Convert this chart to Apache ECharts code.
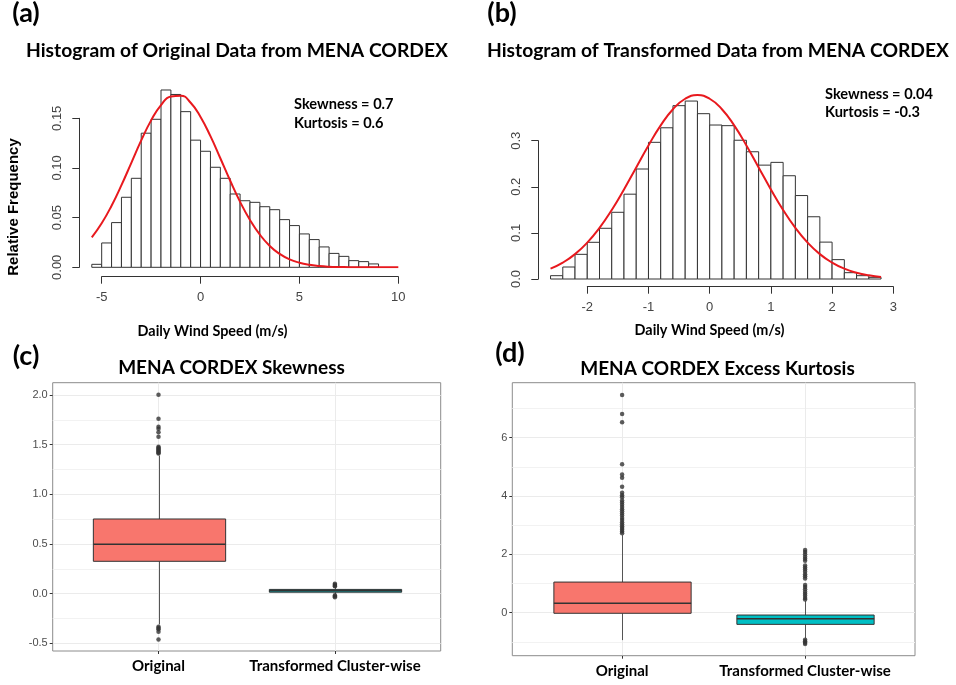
<!DOCTYPE html>
<html><head><meta charset="utf-8">
<script src="https://cdn.jsdelivr.net/npm/echarts@6/dist/echarts.min.js"></script>
<style>html,body{margin:0;padding:0;background:#fff}#c{width:956px;height:685px}</style>
</head><body><div id="c"></div>
<script>
// ---------- Panel (a): histogram of original data ----------
const binEdgesA = [-5.5,-5,-4.5,-4,-3.5,-3,-2.5,-2,-1.5,-1,-0.5,0,0.5,1,1.5,2,2.5,3,3.5,4,4.5,5,5.5,6,6.5,7,7.5,8,8.5,9];
const freqA = [0.003,0.0245,0.045,0.0705,0.0896,0.135,0.149,0.1785,0.174,0.1567,0.128,0.1168,0.1007,0.0896,0.0738,0.067,0.0654,0.061,0.058,0.048,0.042,0.0336,0.0279,0.0205,0.014,0.011,0.0067,0.0057,0.0034];
const curveAx = [-5.5,-5,-4.5,-4,-3.5,-3,-2.5,-2,-1.5,-1,-0.5,0,0.5,1,1.5,2,2.5,3,3.5,4,4.5,5,5.5,6,6.5,7,7.5,8,8.5,9,9.5,10];
const curveAy = [0.0302,0.0443,0.0620,0.0827,0.1052,0.1277,0.1479,0.1633,0.1720,0.1728,0.1657,0.1514,0.1320,0.1098,0.0871,0.0659,0.0476,0.0328,0.0215,0.0135,0.0080,0.0046,0.0025,0.0013,0.0006,0.0003,0.0001,0,0,0,0,0];
const ticksAx = [-5, 10, 5];      // min, max, step
const ticksAy = [0, 0.15, 0.05];

// ---------- Panel (b): histogram of transformed data ----------
const binEdgesB = [-2.6,-2.4,-2.2,-2,-1.8,-1.6,-1.4,-1.2,-1,-0.8,-0.6,-0.4,-0.2,0,0.2,0.4,0.6,0.8,1,1.2,1.4,1.6,1.8,2,2.2,2.4,2.6,2.8];
const freqB = [0.0072,0.026,0.0535,0.0796,0.11,0.1447,0.184,0.2386,0.2965,0.328,0.376,0.386,0.3586,0.334,0.3326,0.301,0.276,0.247,0.253,0.224,0.181,0.135,0.080,0.042,0.0137,0.0072,0.0036];
const curveBx = [-2.6,-2.4,-2.2,-2,-1.8,-1.6,-1.4,-1.2,-1,-0.8,-0.6,-0.4,-0.2,0,0.2,0.4,0.6,0.8,1,1.2,1.4,1.6,1.8,2,2.2,2.4,2.6,2.8];
const curveBy = [0.0224,0.0355,0.0540,0.0790,0.1109,0.1497,0.1942,0.2420,0.2897,0.3332,0.3683,0.3910,0.3989,0.3910,0.3683,0.3332,0.2897,0.2420,0.1942,0.1497,0.1109,0.0790,0.0540,0.0355,0.0224,0.0136,0.0079,0.0044];
const ticksBx = [-2, 3, 1];
const ticksBy = [0, 0.3, 0.1];

// ---------- Panels (c) and (d): box plots ----------
const boxCategories = ['Original', 'Transformed Cluster-wise'];
const boxColors = ['#F8766D', '#00BFC4'];
// [low whisker, Q1, median, Q3, high whisker]
const skewOriginal = [-0.31, 0.326, 0.497, 0.752, 1.39];
const skewTransformed = [-0.005, 0.015, 0.03, 0.043, 0.065];
const skewOutOriginal = [2.003,1.762,1.681,1.66,1.625,1.581,1.48,1.47,1.46,1.45,1.44,1.43,1.42,1.41,-0.332,-0.345,-0.359,-0.383,-0.46];
const skewOutTransformed = [0.10,0.09,0.08,0.075,-0.015,-0.025,-0.035];
const kurtOriginal = [-0.94, -0.02, 0.32, 1.05, 2.66];
const kurtTransformed = [-0.88, -0.40, -0.21, -0.08, 0.40];
const kurtOutOriginal = [7.46,6.81,6.53,5.09,4.74,4.63,4.32,4.11,4.03,3.96,3.85,3.78,3.7,3.62,3.55,3.48,3.4,3.33,3.25,3.18,3.1,3.03,2.96,2.9,2.84,2.78,2.72];
const kurtOutTransformed = [2.15,2.08,2.0,1.92,1.85,1.78,1.62,1.55,1.48,1.4,1.32,1.25,1.17,0.95,0.88,0.8,0.72,0.65,0.58,0.5,0.45,-0.93,-0.98,-1.03,-1.07];
const ticksCy = [-0.5, 2.0, 0.5];
const ticksDy = [0, 6, 2];

// ---------- helpers ----------
const LAB = 'Liberation Sans';
const BOLD = 'Lato';
function histData(edges, freq) { return freq.map((f, i) => [edges[i], edges[i + 1], f]); }
function pairs(xs, ys) { return xs.map((x, i) => [x, ys[i]]); }
function outPts(idx, vals) { return vals.map(v => [idx, v]); }

function histItem(params, api) {
  const p0 = api.coord([api.value(0), api.value(2)]);
  const p1 = api.coord([api.value(1), 0]);
  return { type: 'rect', shape: { x: p0[0], y: p0[1], width: p1[0] - p0[0], height: p1[1] - p0[1] },
    style: { fill: '#fff', stroke: '#333', lineWidth: 1 } };
}
function boxItem(params, api) {
  const c = api.value(0);
  const lo = api.coord([c, api.value(1)]), q1 = api.coord([c, api.value(2)]),
        md = api.coord([c, api.value(3)]), q3 = api.coord([c, api.value(4)]), hi = api.coord([c, api.value(5)]);
  const bw = api.size([1, 0])[0] * 0.75;
  const x = Math.round(q1[0]) + 0.5;
  return { type: 'group', children: [
    { type: 'line', shape: { x1: x, y1: q3[1], x2: x, y2: hi[1] }, style: { stroke: '#555', lineWidth: 1 } },
    { type: 'line', shape: { x1: x, y1: q1[1], x2: x, y2: lo[1] }, style: { stroke: '#555', lineWidth: 1 } },
    { type: 'rect', shape: { x: x - bw / 2, y: q3[1], width: bw, height: q1[1] - q3[1] }, style: { fill: boxColors[c], stroke: '#333', lineWidth: 1 } },
    { type: 'line', shape: { x1: x - bw / 2, y1: md[1], x2: x + bw / 2, y2: md[1] }, style: { stroke: '#333', lineWidth: 1.5 } }
  ] };
}

const grids = [
  [81.9, 88.5, 326.3, 178.8],    // 0 A data
  [101.7, 176.7, 296.6, 100],    // 1 A x axis
  [79.3, 118.3, 100, 149],       // 2 A y axis
  [538.3, 94.6, 355, 184.4],     // 3 B data
  [587.3, 186.7, 306, 100],      // 4 B x axis
  [538.3, 140.7, 100, 138.3],    // 5 B y axis
  [52.7, 382.7, 388, 268.3],     // 6 C border
  [52.7, 395, 388, 248.4],       // 7 C y ticks
  [158.5, 382.7, 176.4, 268.3],  // 8 C vertical grid
  [70.3, 382.7, 352.8, 268.3],   // 9 C data
  [512.3, 382.7, 402.7, 273],    // 10 D border
  [512.3, 408.5, 402.7, 233.4],  // 11 D minor
  [512.3, 437.7, 402.7, 175],    // 12 D major ticks
  [622.1, 382.7, 183, 273],      // 13 D vertical grid
  [530.6, 382.7, 366, 273]       // 14 D data
].map((g, i) => {
  const o = { left: g[0], top: g[1], width: g[2], height: g[3], containLabel: false };
  if (i === 6 || i === 10) { o.show = true; o.backgroundColor = '#fff'; o.borderColor = '#8c8c8c'; o.borderWidth = 1; }
  return o;
});

function hid(i, extra) { return Object.assign({ gridIndex: i, type: 'value', show: false, min: 0, max: 1 }, extra || {}); }
const rAxisLine = { show: true, onZero: false, lineStyle: { color: '#333', width: 1 } };
const rTick = { show: true, inside: false, length: 7, lineStyle: { color: '#333' } };
function rX(i, t) {
  return { gridIndex: i, type: 'value', min: t[0], max: t[1], interval: t[2], axisLine: rAxisLine, axisTick: rTick,
    splitLine: { show: false }, axisLabel: { fontSize: 13, color: '#444', fontFamily: LAB, margin: 14, showMinLabel: true, showMaxLabel: true } };
}
function rY(i, t, dec) {
  return { gridIndex: i, type: 'value', min: t[0], max: t[1], interval: t[2], axisLine: rAxisLine, axisTick: rTick,
    splitLine: { show: false }, axisLabel: { rotate: 90, fontSize: 13, color: '#444', fontFamily: LAB, margin: 15,
      showMinLabel: true, showMaxLabel: true, formatter: v => v.toFixed(dec) } };
}
function ggY(i, t, dec) {
  return { gridIndex: i, type: 'value', min: t[0], max: t[1], interval: t[2], axisLine: { show: false, onZero: false },
    axisTick: { show: true, length: 3, lineStyle: { color: '#333' } },
    axisLabel: { fontSize: 11, color: '#4d4d4d', fontFamily: LAB, margin: 5, formatter: v => v.toFixed(dec), showMinLabel: true, showMaxLabel: true },
    splitLine: { show: true, lineStyle: { color: '#ebebeb', width: 1 } },
    minorTick: { show: false, splitNumber: 2 }, minorSplitLine: { show: dec > 0, lineStyle: { color: '#f2f2f2', width: 1 } } };
}
function vline(i) {
  return { gridIndex: i, type: 'value', min: 0, max: 1, interval: 1, axisLine: { show: false, onZero: false }, axisTick: { show: false },
    axisLabel: { show: false }, splitLine: { show: true, lineStyle: { color: '#ebebeb', width: 1 } } };
}
function catX(i) {
  return { gridIndex: i, type: 'category', data: boxCategories, axisLine: { show: false, onZero: false },
    axisTick: { show: true, alignWithLabel: true, length: 3, lineStyle: { color: '#333' } },
    axisLabel: { fontSize: 15, fontWeight: 'bold', color: '#000', fontFamily: BOLD, margin: 8, interval: 0 },
    splitLine: { show: false } };
}

const xAxes = [
  hid(0, { min: -6, max: 10.5 }), rX(1, ticksAx), hid(2),
  hid(3, { min: -2.8, max: 3.0 }), rX(4, ticksBx), hid(5),
  hid(6), hid(7), vline(8), catX(9),
  hid(10), hid(11), hid(12), vline(13), catX(14)
];
const yAxes = [
  hid(0, { min: 0, max: 0.18 }), hid(1), rY(2, ticksAy, 2),
  hid(3, { min: 0, max: 0.4 }), hid(4), rY(5, ticksBy, 1),
  hid(6), ggY(7, ticksCy, 1), hid(8), hid(9, { min: -0.577, max: 2.124 }),
  hid(10),
  { gridIndex: 11, type: 'value', min: -1, max: 7, interval: 1, axisLine: { show: false }, axisTick: { show: false }, axisLabel: { show: false },
    splitLine: { show: true, lineStyle: { color: '#f2f2f2', width: 1 } } },
  ggY(12, ticksDy, 0), hid(13), hid(14, { min: -1.474, max: 7.885 })
];

const RED = '#e8191e';
const series = [
  { type: 'custom', xAxisIndex: 0, yAxisIndex: 0, renderItem: histItem, data: histData(binEdgesA, freqA), z: 2, silent: true },
  { type: 'line', xAxisIndex: 0, yAxisIndex: 0, data: pairs(curveAx, curveAy), smooth: true, showSymbol: false,
    lineStyle: { color: RED, width: 2 }, z: 3, silent: true },
  { type: 'custom', xAxisIndex: 3, yAxisIndex: 3, renderItem: histItem, data: histData(binEdgesB, freqB), z: 2, silent: true },
  { type: 'line', xAxisIndex: 3, yAxisIndex: 3, data: pairs(curveBx, curveBy), smooth: true, showSymbol: false,
    lineStyle: { color: RED, width: 2 }, z: 3, silent: true },
  { type: 'custom', xAxisIndex: 9, yAxisIndex: 9, renderItem: boxItem, z: 2, silent: true,
    data: [[0].concat(skewOriginal), [1].concat(skewTransformed)] },
  { type: 'scatter', xAxisIndex: 9, yAxisIndex: 9, symbolSize: 4.5, itemStyle: { color: '#333' }, z: 3, silent: true,
    data: outPts(0, skewOutOriginal).concat(outPts(1, skewOutTransformed)) },
  { type: 'custom', xAxisIndex: 14, yAxisIndex: 14, renderItem: boxItem, z: 2, silent: true,
    data: [[0].concat(kurtOriginal), [1].concat(kurtTransformed)] },
  { type: 'scatter', xAxisIndex: 14, yAxisIndex: 14, symbolSize: 4.5, itemStyle: { color: '#333' }, z: 3, silent: true,
    data: outPts(0, kurtOutOriginal).concat(outPts(1, kurtOutTransformed)) }
];

function T(text, x, y, font, align, rot) {
  return { type: 'text', x: x, y: y, rotation: rot || 0, z: 100, silent: true,
    style: { text: text, x: 0, y: 0, align: align || 'center', verticalAlign: 'middle', font: font, fill: '#000' } };
}
const graphic = [
  T('(a)', 26, 13, 'bold 27px Lato'),
  T('(b)', 502, 13, 'bold 27px Lato'),
  T('(c)', 26, 356, 'bold 27px Lato'),
  T('(d)', 510, 353, 'bold 27px Lato'),
  T('Histogram of Original Data from MENA CORDEX', 237, 51, 'bold 19.3px Lato'),
  T('Histogram of Transformed Data from MENA CORDEX', 718, 51, 'bold 19.3px Lato'),
  T('MENA CORDEX Skewness', 231.5, 368, 'bold 19px Lato'),
  T('MENA CORDEX Excess Kurtosis', 717.5, 369, 'bold 19px Lato'),
  T('Skewness = 0.7', 294, 104, 'bold 14.6px Lato', 'left'),
  T('Kurtosis = 0.6', 294, 123, 'bold 14.6px Lato', 'left'),
  T('Skewness = 0.04', 825, 94, 'bold 14.6px Lato', 'left'),
  T('Kurtosis = -0.3', 825, 112.5, 'bold 14.6px Lato', 'left'),
  T('Daily Wind Speed (m/s)', 212.5, 331, 'bold 14.4px Lato'),
  T('Daily Wind Speed (m/s)', 709.5, 330, 'bold 14.4px Lato'),
  T('Relative Frequency', 14, 207, 'bold 15px "Liberation Sans"', 'center', Math.PI / 2)
];

const chart = echarts.init(document.getElementById('c'), null, { renderer: 'canvas' });
chart.setOption({
  backgroundColor: '#fff', animation: false,
  grid: grids, xAxis: xAxes, yAxis: yAxes, series: series, graphic: graphic
});
</script></body></html>
